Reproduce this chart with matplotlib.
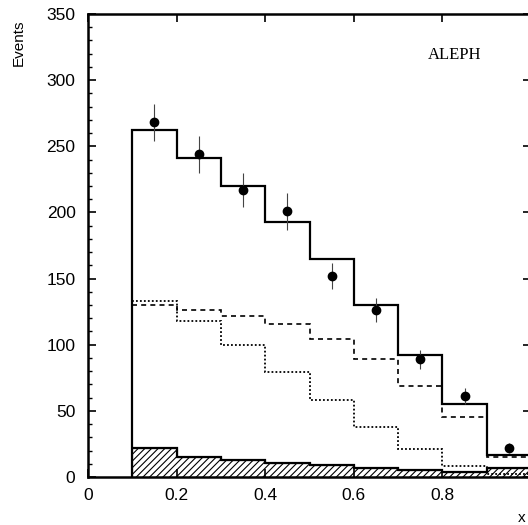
import numpy as np
import matplotlib
matplotlib.use("Agg")
import matplotlib.pyplot as plt
from matplotlib.ticker import MultipleLocator

# bin edges in x
edges = [0.1, 0.2, 0.3, 0.4, 0.5, 0.6, 0.7, 0.8, 0.9, 1.0]

# total prediction (solid)
total = [262, 241, 220, 193, 165, 130, 92, 55, 17]
# two components (dashed / dotted)
dashed = [130, 126, 122, 116, 104, 89, 69, 45, 15]
dotted = [133, 118, 100, 79, 58, 38, 21, 8, 2]
# background (hatched)
background = [22, 15, 12.5, 10.5, 9, 6.5, 5, 4, 7]

# data points
data_x = [0.15, 0.25, 0.35, 0.45, 0.55, 0.65, 0.75, 0.85, 0.95]
data_y = [268, 244, 217, 201, 152, 126, 89, 61, 22]
data_err = [14, 14, 13, 14, 10, 9, 7, 6, 4]

plt.rcParams["font.family"] = ["Liberation Sans", "DejaVu Sans"]
plt.rcParams["hatch.linewidth"] = 0.8

fig = plt.figure(figsize=(5.28, 5.25), dpi=100)
ax = fig.add_axes([88 / 528, 48 / 525, 443 / 528, 463 / 525])

ax.stairs(background, edges, fill=True, facecolor="white", edgecolor="black",
          hatch="/////", linewidth=0.8)
ax.stairs(background, edges, baseline=None, color="black", linewidth=1.6)
ax.stairs(dotted, edges, baseline=None, color="black", linestyle=(0, (1, 1.2)), linewidth=1.3)
ax.stairs(dashed, edges, baseline=None, color="black", linestyle=(0, (3, 2.5)), linewidth=1.2)
ax.stairs(total, edges, baseline=0, color="black", linewidth=1.6)

ax.errorbar(data_x, data_y, yerr=data_err, fmt="o", color="black", markersize=6,
            ecolor="#444444", elinewidth=0.8, capsize=0)

ax.set_xlim(0, 1.0)
ax.set_ylim(0, 350)
ax.yaxis.set_major_locator(MultipleLocator(50))
ax.yaxis.set_minor_locator(MultipleLocator(10))
ax.set_xticks([0, 0.2, 0.4, 0.6, 0.8])
ax.set_xticklabels(["0", "0.2", "0.4", "0.6", "0.8"])
ax.tick_params(axis="both", which="major", direction="in", length=6, width=1.2,
               labelsize=12.5, top=True, right=True)
ax.tick_params(axis="y", which="minor", direction="in", length=3, width=1.0, right=False)
ax.tick_params(axis="y", pad=9)
ax.tick_params(axis="x", pad=8)
for s in ax.spines.values():
    s.set_linewidth(1.8)

fig.text(19 / 528, 1 - 43 / 525, "Events", rotation=90, ha="center", va="center", fontsize=11)
fig.text(455 / 528, 1 - 55 / 525, "ALEPH", ha="center", va="center",
         fontsize=12, family="Liberation Serif")
fig.text(518 / 528, 1 - 518 / 525, "x", ha="left", va="center", fontsize=11)

fig.savefig("out.png", dpi=100)
